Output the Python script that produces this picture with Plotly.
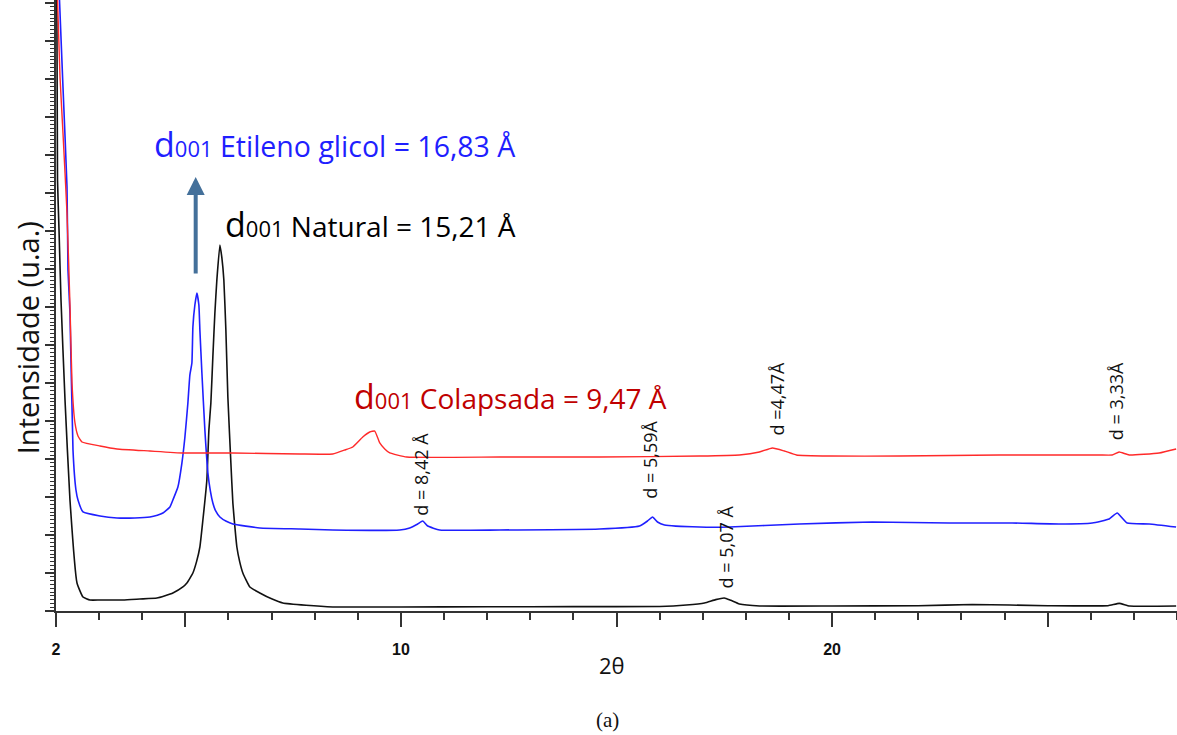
import plotly.graph_objects as go

# 2θ (degrees) and intensity (arbitrary units) for each diffractogram
natural_2theta = [2.019, 2.035, 2.070, 2.116, 2.209, 2.324, 2.487, 2.626, 2.788, 3.02, 3.553, 3.947,
                  4.341, 4.711, 4.943, 5.036, 5.105, 5.175, 5.26, 5.337, 5.407, 5.499, 5.546, 5.592,
                  5.638, 5.685, 5.731, 5.801, 5.847, 5.893, 5.940, 5.986, 6.056, 6.102, 6.15, 6.195,
                  6.26, 6.334, 6.496, 6.728, 7.0, 7.261, 7.8, 8.419, 9.972, 12.0, 14.0, 16.0, 16.62,
                  17.04, 17.30, 17.50, 17.65, 17.85, 18.32, 20.0, 22.0, 23.25, 25.0, 26.4, 26.66,
                  26.9, 27.98]
natural_int = [8039, 5671, 5013, 4092, 2776, 1461, 368, 184, 145, 145, 145, 158,
               171, 237, 316, 368, 430, 500, 650, 842, 1197, 1724, 2382, 2737,
               3342, 3921, 4355, 4816, 4650, 4355, 3697, 2816, 1947, 1421, 1100, 842,
               650, 500, 316, 237, 160, 105, 75, 53, 53, 55, 57, 60, 79,
               105, 150, 171, 140, 92, 66, 66, 70, 85, 70, 70, 100,
               66, 66]

glicol_2theta = [2.081, 2.162, 2.255, 2.278, 2.324, 2.394, 2.463, 2.510, 2.626, 3.020, 3.414, 3.831,
                 4.178, 4.35, 4.480, 4.642, 4.711, 4.827, 4.920, 4.990, 5.059, 5.105, 5.152, 5.175,
                 5.221, 5.268, 5.314, 5.337, 5.384, 5.453, 5.523, 5.58, 5.638, 5.70, 5.801, 5.95,
                 6.102, 6.728, 7.655, 8.419, 9.972, 10.204, 10.390, 10.505, 10.621, 10.899, 12.290,
                 14.607, 15.534, 15.719, 15.835, 15.951, 16.113, 16.925, 17.620, 19.242, 20.934,
                 22.718, 24.178, 25.268, 26.033, 26.427, 26.612, 26.844, 27.354, 27.979]
glicol_int = [8039, 6895, 5579, 4487, 3921, 2118, 1592, 1461, 1303, 1250, 1224, 1224,
              1237, 1260, 1289, 1368, 1461, 1632, 1947, 2289, 2737, 3105, 3263, 3737,
              4026, 4184, 4026, 3697, 3132, 2382, 1816, 1580, 1421, 1320, 1237, 1180,
              1145, 1092, 1079, 1066, 1066, 1092, 1145, 1184, 1118, 1066, 1066,
              1079, 1118, 1184, 1237, 1171, 1132, 1105, 1105, 1145, 1171,
              1158, 1158, 1145, 1158, 1211, 1289, 1158, 1145, 1105]

colapsada_2theta = [2.035, 2.093, 2.162, 2.255, 2.324, 2.371, 2.440, 2.510, 2.603, 3.020, 3.414, 4.178,
                    4.943, 6.102, 7.655, 8.419, 8.698, 8.883, 9.115, 9.277, 9.393, 9.509, 9.625,
                    9.741, 10.134, 12.29, 14.607, 16.925, 17.85, 18.315, 18.616, 18.894, 19.173,
                    19.937, 21.56, 23.877, 26.195, 26.496, 26.658, 26.89, 27.585, 27.98]
colapsada_int = [8039, 7026, 6289, 5237, 4026, 3000, 2474, 2303, 2224, 2171, 2132, 2105,
                 2079, 2079, 2066, 2066, 2118, 2158, 2289, 2355, 2368, 2211, 2132,
                 2079, 2026, 2026, 2026, 2039, 2053, 2092, 2145, 2105, 2053,
                 2039, 2039, 2053, 2053, 2053, 2092, 2053, 2079, 2132]

# Peak labels: (text, 2θ position, intensity position)
peak_labels = [
    ("d = 8,42 Å", 10.46, 1803),
    ("d = 5,59Å", 15.77, 1987),
    ("d =4,47Å", 18.71, 2803),
    ("d = 3,33Å", 26.59, 2763),
    ("d = 5,07 Å", 17.55, 842),
]

x_tickvals = [2, 5, 10, 15, 20, 25]
x_ticktext = ["<b>2</b>", "", "<b>10</b>", "", "<b>20</b>", ""]

FONT = "Open Sans"

fig = go.Figure()
fig.add_trace(go.Scatter(x=natural_2theta, y=natural_int, mode="lines",
                         line=dict(color="#111111", width=1.6, shape="spline", smoothing=0.4),
                         name="Natural"))
fig.add_trace(go.Scatter(x=glicol_2theta, y=glicol_int, mode="lines",
                         line=dict(color="#1f1fff", width=1.6, shape="spline", smoothing=0.4),
                         name="Etileno glicol"))
fig.add_trace(go.Scatter(x=colapsada_2theta, y=colapsada_int, mode="lines",
                         line=dict(color="#ff2a2a", width=1.4, shape="spline", smoothing=0.4),
                         name="Colapsada"))

annotations = []
for text, xv, yv in peak_labels:
    annotations.append(dict(x=xv, y=yv, xref="x", yref="y", text=text, showarrow=False,
                            textangle=-90, font=dict(family=FONT, size=18, color="#111111")))

def d001(rest):
    return (f"<span style='font-size:34px'>d</span>"
            f"<span style='font-size:22px'>001</span> {rest}")

annotations += [
    dict(x=4.225, y=6140, xref="x", yref="y", xanchor="left", yanchor="middle", showarrow=False,
         text=d001("Etileno glicol = 16,83 Å"),
         font=dict(family=FONT, size=28.5, color="#1f1fff")),
    dict(x=5.87, y=5092, xref="x", yref="y", xanchor="left", yanchor="middle", showarrow=False,
         text=d001("Natural = 15,21 Å"),
         font=dict(family=FONT, size=28, color="#000000")),
    dict(x=8.86, y=2829, xref="x", yref="y", xanchor="left", yanchor="middle", showarrow=False,
         text=d001("Colapsada = 9,47 Å"),
         font=dict(family=FONT, size=28, color="#c00000")),
    # shift of the d001 reflection on glycolation
    dict(x=5.24, y=5711, xref="x", yref="y", ax=0, ay=98, axref="pixel", ayref="pixel",
         showarrow=True, arrowhead=2, arrowsize=0.9, arrowwidth=4, arrowcolor="#44709a", text=""),
    dict(x=0.496, y=-0.088, xref="paper", yref="paper", xanchor="center", yanchor="middle",
         text="2θ", showarrow=False, font=dict(family=FONT, size=22, color="#111111")),
    dict(x=-0.0259, y=0.448, xref="paper", yref="paper", xanchor="center", yanchor="middle",
         text="Intensidade (u.a.)", showarrow=False, textangle=-90,
         font=dict(family=FONT, size=29, color="#111111")),
    dict(x=0.492, y=-0.178, xref="paper", yref="paper", xanchor="center", yanchor="middle",
         text="(a)", showarrow=False, font=dict(family="Liberation Serif", size=21, color="#111111")),
]

fig.update_layout(
    width=1177, height=735,
    margin=dict(l=56, r=0, t=0, b=124),
    paper_bgcolor="white", plot_bgcolor="white",
    showlegend=False,
    annotations=annotations,
    xaxis=dict(range=[2, 28], tickvals=x_tickvals, ticktext=x_ticktext,
               ticks="outside", ticklen=14, tickwidth=2, tickcolor="#333333",
               minor=dict(dtick=1, tick0=2, ticks="outside", ticklen=7, tickwidth=2, tickcolor="#333333"),
               showline=True, linecolor="#333333", linewidth=2, showgrid=False, zeroline=False,
               ticklabelstandoff=9,
               tickfont=dict(family="Liberation Sans", size=16, color="#111111")),
    yaxis=dict(range=[0, 8039], dtick=500, tick0=0, ticks="outside", ticklen=9, tickwidth=2,
               tickcolor="#333333", showticklabels=False,
               minor=dict(dtick=50, ticks="outside", ticklen=4, tickwidth=1, tickcolor="#333333"),
               showline=True, linecolor="#333333", linewidth=2, showgrid=False, zeroline=False),
)

fig.write_html("out.html")
